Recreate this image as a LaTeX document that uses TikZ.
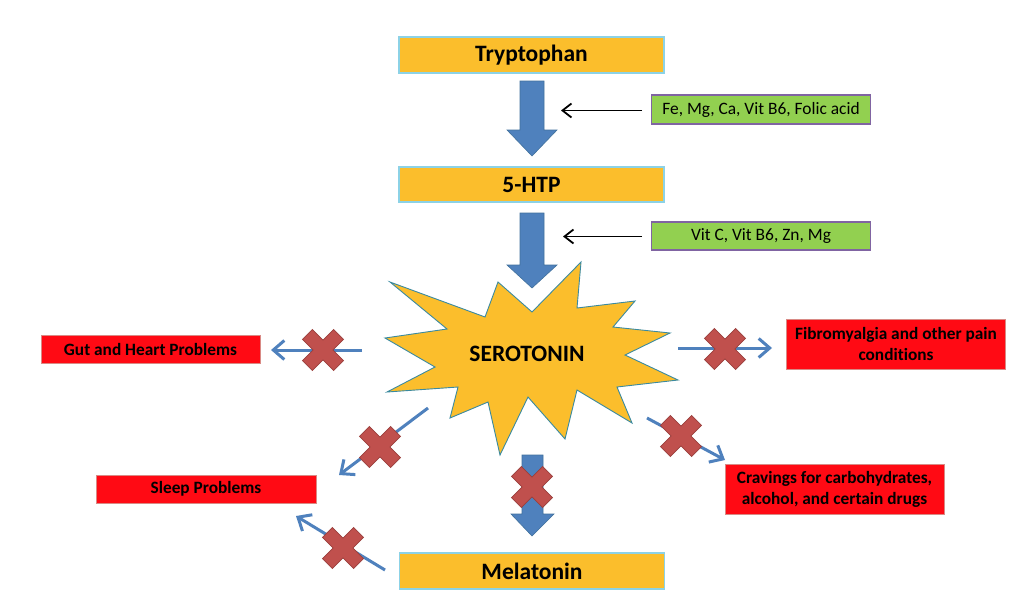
\documentclass[tikz,border=0pt]{standalone}
\usepackage{fontspec}
\setmainfont{Carlito}[Ligatures=NoCommon]
\usetikzlibrary{arrows.meta}
\definecolor{boxorange}{HTML}{FBBE2C}
\definecolor{boxedge}{HTML}{8CD2E6}
\definecolor{arrowblue}{HTML}{4F81BD}
\definecolor{arrowedge}{HTML}{41719C}
\definecolor{greenfill}{HTML}{92D050}
\definecolor{greenedge}{HTML}{8064A2}
\definecolor{redfill}{HTML}{FF0A14}
\definecolor{rededge}{HTML}{D98A85}
\definecolor{crossfill}{HTML}{C0504D}
\definecolor{crossedge}{HTML}{9A3F3C}
\definecolor{staredge}{HTML}{3A8AA0}
\tikzset{
  mainbox/.style={draw=boxedge, line width=1.5pt, fill=boxorange, minimum width=265pt, minimum height=36pt, inner sep=0pt, font=\fontsize{23.5}{27}\selectfont\bfseries},
  greenbox/.style={draw=greenedge, line width=1.5pt, fill=greenfill, minimum width=219pt, minimum height=29pt, inner sep=0pt, font=\fontsize{17.4}{20}\selectfont},
  redbox/.style={draw=rededge, line width=1pt, fill=redfill, minimum width=219pt, minimum height=28pt, inner sep=0pt, align=center, font=\fontsize{17.3}{21}\selectfont\bfseries},
  bigarrow/.style={fill=arrowblue, draw=arrowedge, line width=0.6pt},
  cofactor/.style={draw=black, line width=1.8pt, -{Straight Barb[length=9pt,width=14pt]}},
  blocked/.style={draw=arrowblue, line width=3pt, -{Straight Barb[length=11pt,width=19pt]}},
  blockx/.pic={\draw[crossedge, fill=crossfill, line width=0.8pt, rotate=45] (7,22) -- (7,7) -- (22,7) -- (22,-7) -- (7,-7) -- (7,-22) -- (-7,-22) -- (-7,-7) -- (-22,-7) -- (-22,7) -- (-7,7) -- (-7,22) -- cycle;}
}
\begin{document}
\begin{tikzpicture}[x=1pt,y=-1pt]
\useasboundingbox (0,0) rectangle (1024,611);
\fill[white] (0,0) rectangle (1024,611);

% main boxes
\node[mainbox] (trp) at (531.5,55) {Tryptophan};
\node[mainbox, minimum height=35pt] (htp) at (531.5,184.5) {5-HTP};
\node[mainbox] (mel) at (532,571) {Melatonin};

% cofactor boxes
\node[greenbox] (g1) at (761,109.5) {Fe, Mg, Ca, Vit B6, Folic acid};
\node[greenbox, minimum height=28pt] (g2) at (761,236) {Vit C, Vit B6, Zn, Mg};

% big arrows
\draw[bigarrow] (520,81) -- (544,81) -- (544,130) -- (557,130) -- (532,156) -- (507,130) -- (520,130) -- cycle;
\draw[bigarrow] (520,213) -- (544,213) -- (544,265) -- (557,265) -- (532,288) -- (507,265) -- (520,265) -- cycle;
\draw[bigarrow] (522,455) -- (543,455) -- (543,514) -- (554,514) -- (532,536) -- (511,514) -- (522,514) -- cycle;

% cofactor arrows
\coordinate (a1s) at (642,110.5);
\coordinate (a1e) at (561,110.5);
\coordinate (a2s) at (642,236.5);
\coordinate (a2e) at (563,236.5);
\draw[cofactor] (a1s) -- (a1e);
\draw[cofactor] (a2s) -- (a2e);

% serotonin star
\draw[fill=boxorange, draw=staredge, line width=0.9pt]
 (498,282) -- (532,312) -- (581,262) -- (577,308) -- (635,301) -- (613,327) -- (670,333) -- (625,355) -- (678,380) -- (617,387) -- (632,423) -- (577,390) -- (565,439) -- (528,397) -- (500,455) -- (488,402) -- (450,418) -- (458,387) -- (387,392) -- (435,367) -- (385,338) -- (447,329) -- (390,282) -- (485,317) -- cycle;
\node[font=\fontsize{23.5}{27}\selectfont\bfseries] (ser) at (527,354) {SEROTONIN};

% outcome boxes
\node[redbox] (gut) at (150.5,349) {Gut and Heart Problems};
\node[redbox, minimum height=50pt] (fib) at (896,344) {Fibromyalgia and other pain\\conditions};
\node[redbox, minimum height=50pt] (crav) at (834.5,489) {Cravings for carbohydrates,\\alcohol, and certain drugs};
\node[redbox, minimum width=220pt] (slp) at (206,489) {Sleep Problems};

% blocked arrows
\coordinate (gs) at (362,350);  \coordinate (ge) at (271,350);
\coordinate (fs) at (678,348);  \coordinate (fe) at (772,348);
\coordinate (cs) at (647,418);  \coordinate (ce) at (725,460);
\coordinate (s1s) at (428,408); \coordinate (s1e) at (339,475);
\coordinate (s2s) at (385,570); \coordinate (s2e) at (296,516);
\draw[blocked] (gs) -- (ge);
\draw[blocked] (fs) -- (fe);
\draw[blocked] (cs) -- (ce);
\draw[blocked] (s1s) -- (s1e);
\draw[blocked] (s2s) -- (s2e);

% crosses
\pic at (323,350) {blockx};
\pic at (725,349) {blockx};
\pic at (681,436) {blockx};
\pic at (380,447) {blockx};
\pic at (343,548) {blockx};
\pic at (532,487) {blockx};
\end{tikzpicture}
\end{document}
